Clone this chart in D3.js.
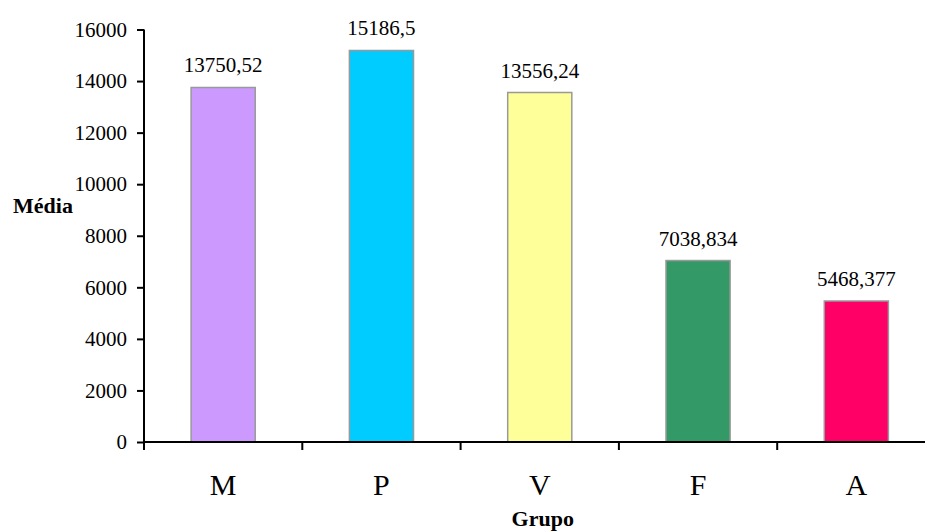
<!DOCTYPE html>
<html>
<head>
<meta charset="utf-8">
<script src="https://cdn.jsdelivr.net/npm/d3@7"></script>
<style>
  html, body { margin: 0; padding: 0; background: #fff; }
  svg { display: block; }
  svg text { font-family: "Liberation Serif", "Times New Roman", serif; fill: #000; }
</style>
</head>
<body>
<svg id="chart" width="925" height="532"></svg>
<script>
const categories = ["M", "P", "V", "F", "A"];
const values = [13750.52, 15186.5, 13556.24, 7038.834, 5468.377];
const valueLabels = ["13750,52", "15186,5", "13556,24", "7038,834", "5468,377"];
const colors = ["#CC99FF", "#00CCFF", "#FFFF99", "#339966", "#FF0066"];
const yTicks = [0, 2000, 4000, 6000, 8000, 10000, 12000, 14000, 16000];

const svg = d3.select("#chart");
const plotLeft = 144, plotRight = 935.5, plotTop = 29.5, plotBottom = 442;

const x = d3.scaleBand().domain(categories).range([plotLeft, plotRight]).paddingInner(0).paddingOuter(0);
const y = d3.scaleLinear().domain([0, 16000]).range([plotBottom, plotTop]);
const barW = x.bandwidth() * 0.405;

// bars
svg.append("g").selectAll("rect")
  .data(categories)
  .join("rect")
  .attr("x", (d) => x(d) + x.bandwidth() / 2 - barW / 2)
  .attr("y", (d, i) => y(values[i]))
  .attr("width", barW)
  .attr("height", (d, i) => plotBottom - y(values[i]))
  .attr("fill", (d, i) => colors[i])
  .attr("stroke", "#999999")
  .attr("stroke-width", 1.5);

// value labels
svg.append("g").selectAll("text")
  .data(categories)
  .join("text")
  .attr("x", (d) => x(d) + x.bandwidth() / 2)
  .attr("y", (d, i) => y(values[i]) - 15)
  .attr("text-anchor", "middle")
  .style("font-size", "21px")
  .text((d, i) => valueLabels[i]);

// y axis
const yAxis = svg.append("g")
  .attr("transform", `translate(${plotLeft},0)`)
  .call(d3.axisLeft(y).tickValues(yTicks).tickFormat(d3.format("d")).tickSize(7).tickPadding(10));
yAxis.attr("font-family", null).attr("font-size", null);
yAxis.select(".domain").attr("d", `M0,${plotTop}V${plotBottom}`).attr("stroke", "#000").attr("stroke-width", 2);
yAxis.selectAll(".tick line").attr("stroke", "#000").attr("stroke-width", 2);
yAxis.selectAll(".tick text").style("font-size", "21px");

// x axis
const xAxis = svg.append("g")
  .attr("transform", `translate(0,${plotBottom})`)
  .call(d3.axisBottom(x).tickSize(0).tickPadding(32));
xAxis.attr("font-family", null).attr("font-size", null);
xAxis.select(".domain").attr("d", `M${plotLeft},0H925`).attr("stroke", "#000").attr("stroke-width", 2);
xAxis.selectAll(".tick text").style("font-size", "30px");

// category separators on the x axis
svg.append("g").selectAll("line")
  .data(categories)
  .join("line")
  .attr("x1", (d) => x(d))
  .attr("x2", (d) => x(d))
  .attr("y1", plotBottom)
  .attr("y2", plotBottom + 8)
  .attr("stroke", "#000")
  .attr("stroke-width", 2);

// axis titles
svg.append("text")
  .attr("x", 13).attr("y", 213)
  .style("font-size", "22px").style("font-weight", "bold")
  .text("Média");
svg.append("text")
  .attr("x", x("V") + x.bandwidth() / 2 + 3).attr("y", 526)
  .attr("text-anchor", "middle")
  .style("font-size", "22px").style("font-weight", "bold")
  .text("Grupo");
</script>
</body>
</html>
